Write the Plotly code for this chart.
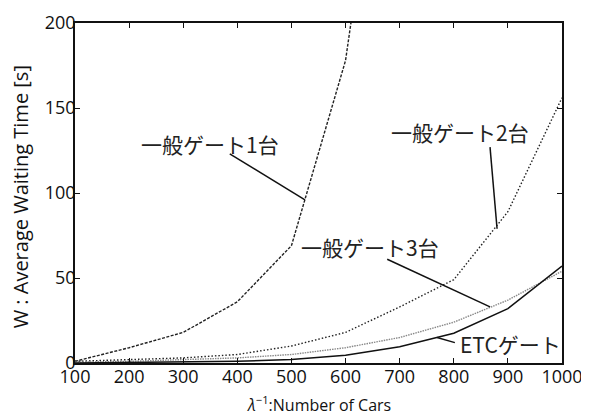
import plotly.graph_objects as go

cars = [100, 200, 300, 400, 500, 600, 700, 800, 900, 1000]
gate1 = [1, 9, 18, 36, 69, 178, 400, None, None, None]
gate2 = [1, 2, 3, 5, 10, 18, 33, 49, 89, 156]
gate3 = [0.5, 1, 2, 3, 5, 9, 15, 24, 37, 54]
etc = [0, 0.2, 0.5, 1, 2, 4.5, 9.5, 17.5, 32, 57]

x_ticks = [100, 200, 300, 400, 500, 600, 700, 800, 900, 1000]
y_ticks = [0, 50, 100, 150, 200]

labels = ["一般ゲート1台", "一般ゲート2台", "一般ゲート3台", "ETCゲート"]
label_pos = [(349, 129), (811, 136), (645, 68), (905, 11)]
leader = [((386, 123), (525, 96)), ((867, 127), (880, 79)),
          ((677, 61), (867, 33)), ((769, 15), (802, 12))]

x_title = "<i>λ</i><sup>−1</sup>:Number of Cars"
y_title = "W : Average Waiting Time [s]"

fig = go.Figure()
fig.add_trace(go.Scatter(x=cars, y=gate1, mode="lines",
                         line=dict(color="#222", width=1.4, dash="3px,1.5px")))
fig.add_trace(go.Scatter(x=cars, y=gate2, mode="lines",
                         line=dict(color="#222", width=1.4, dash="1.5px,2px")))
fig.add_trace(go.Scatter(x=cars, y=gate3, mode="lines",
                         line=dict(color="#888", width=1.4, dash="1.5px,1px")))
fig.add_trace(go.Scatter(x=cars, y=etc, mode="lines",
                         line=dict(color="#111", width=1.5)))

for t, (x, y) in zip(labels, label_pos):
    fig.add_annotation(x=x, y=y, text=t, showarrow=False,
                       font=dict(family="Noto Sans CJK JP", size=21, color="#222"))
for (x0, y0), (x1, y1) in leader:
    fig.add_shape(type="line", x0=x0, y0=y0, x1=x1, y1=y1, xref="x", yref="y",
                  line=dict(color="#111", width=1.5))

fig.add_annotation(x=0.5, y=-0.12, xref="paper", yref="paper", text=x_title,
                   showarrow=False, xanchor="center", yanchor="middle",
                   font=dict(family="Open Sans", size=16, color="#111"))
fig.add_annotation(x=-0.113, y=0.49, xref="paper", yref="paper", text=y_title,
                   showarrow=False, xanchor="center", yanchor="middle", textangle=-90,
                   font=dict(family="Open Sans", size=20, color="#111"))

axis_common = dict(showgrid=False, zeroline=False, showline=True, mirror="ticks",
                   linecolor="#111", linewidth=1.5, ticks="inside", ticklen=5,
                   tickcolor="#111", tickwidth=1, automargin=False,
                   ticklabeloverflow="allow",
                   tickfont=dict(family="Open Sans", size=18, color="#111"))
fig.update_xaxes(range=[100, 1000], tickvals=x_ticks, ticklabelstandoff=-3,
                 **axis_common)
fig.update_yaxes(range=[0, 200], tickvals=y_ticks, ticklabelstandoff=-6,
                 **axis_common)
fig.update_layout(width=581, height=409, showlegend=False,
                  margin=dict(l=67, r=27, t=15, b=54),
                  plot_bgcolor="white", paper_bgcolor="white")
fig.write_html("out.html")
